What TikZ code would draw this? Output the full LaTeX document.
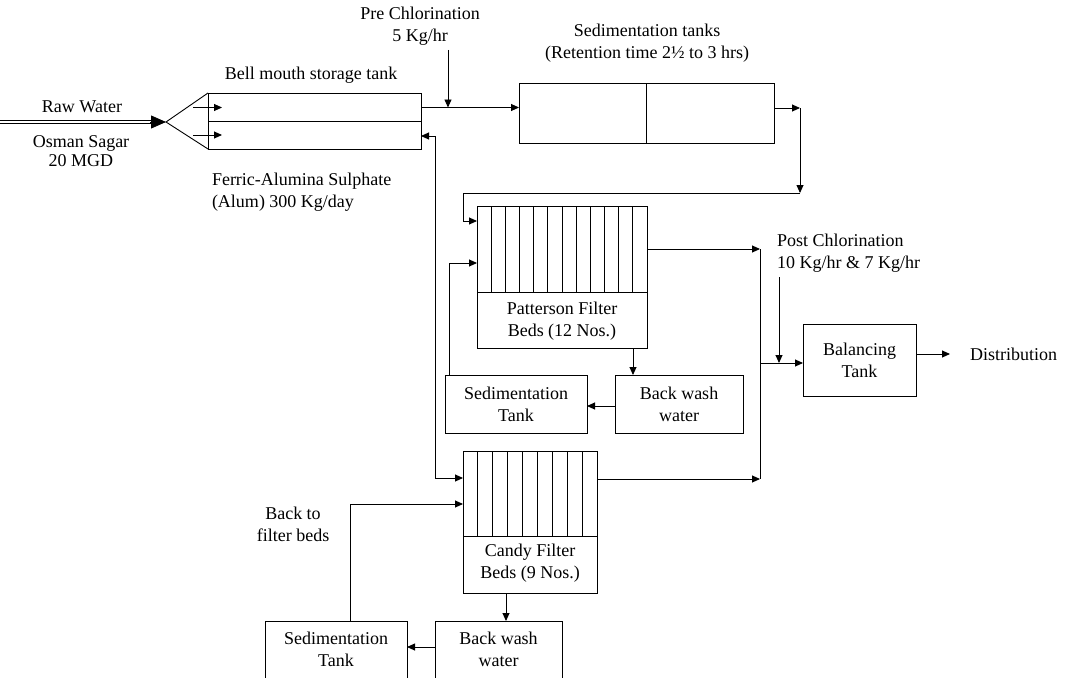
\documentclass[tikz,border=0pt]{standalone}
\usepackage{fontspec}
\setmainfont{Liberation Serif}
\usetikzlibrary{arrows.meta}
\begin{document}
\begin{tikzpicture}[x=1pt,y=-1pt,
  every node/.style={font=\fontsize{18}{22}\selectfont, inner sep=0pt, outer sep=0pt},
  ln/.style={line width=0.9pt},
  box/.style={draw, line width=0.9pt, align=center},
  arr/.style={line width=0.9pt, -{Triangle[length=8pt,width=7pt]}}]
\useasboundingbox (0,0) rectangle (1065,677);
% boxes
\node[box, minimum width=213pt, minimum height=56pt] (bell) at (314.5,121) {};
\draw[ln] (bell.west) -- (bell.east);
\node[box, minimum width=255pt, minimum height=60pt] (sed) at (646.5,113) {};
\draw[ln] (sed.north) -- (sed.south);
\node[box, minimum width=170pt, minimum height=142pt] (patt) at (562,277) {};
\foreach \i in {1,...,11} \draw[ln] ({477+\i*170/12},206) -- ({477+\i*170/12},292);
\draw[ln] (patt.west |- 0,292) -- (patt.east |- 0,292);
\node[align=center] (pattlbl) at (562,321) {Patterson Filter\\Beds (12 Nos.)};
\node[box, minimum width=128pt, minimum height=58pt] (bw1) at (679,404) {Back wash\\water};
\node[box, minimum width=142pt, minimum height=58pt] (st1) at (516,404) {Sedimentation\\Tank};
\node[box, minimum width=113pt, minimum height=72pt] (bal) at (859.5,360) {Balancing\\Tank};
\node[box, minimum width=134pt, minimum height=142pt] (candy) at (530,522) {};
\foreach \i in {1,...,8} \draw[ln] ({463+\i*134/9},451) -- ({463+\i*134/9},536);
\draw[ln] (candy.west |- 0,536) -- (candy.east |- 0,536);
\node[align=center] (candylbl) at (530,563) {Candy Filter\\Beds (9 Nos.)};
\node[box, minimum width=127pt, minimum height=79pt] (bw2) at (498.5,660.5) {};
\node[align=center] (bw2lbl) at (498.5,649) {Back wash\\water};
\node[box, minimum width=142pt, minimum height=79pt] (st2) at (336,660.5) {};
\node[align=center] (st2lbl) at (336,649) {Sedimentation\\Tank};
% labels
\node (rawlbl) at (82,107) {Raw Water};
\node[align=center] (osman) at (81,151.5) {Osman Sagar\\[-3pt]20 MGD};
\node (bmlbl) at (311,75) {Bell mouth storage tank};
\node[align=center] (prechl) at (420,26) {Pre Chlorination\\5 Kg/hr};
\node[align=center] (sedlbl) at (647,43) {Sedimentation tanks\\(Retention time 2½ to 3 hrs)};
\node[align=left, anchor=west] (ferric) at (212,192) {Ferric-Alumina Sulphate\\(Alum) 300 Kg/day};
\node[align=left, anchor=west] (post) at (777,253) {Post Chlorination\\10 Kg/hr \& 7 Kg/hr};
\node[anchor=west] (dist) at (970,354) {Distribution};
\node[align=center] (backto) at (293,524) {Back to\\filter beds};
% coordinates
\coordinate (rawS) at (0,122); \coordinate (apex) at (166,122);
\coordinate (in1) at (193,107.5); \coordinate (in1e) at (222,107.5);
\coordinate (in2) at (193,135); \coordinate (in2e) at (222,135);
\coordinate (pcTop) at (448,50); \coordinate (pcJ) at (448,107.5);
\coordinate (sedOut) at (800,108); \coordinate (sedDown) at (800,193);
\coordinate (pfTurn) at (463,193); \coordinate (pfIn) at (463,221);
\coordinate (retTop) at (435,136); \coordinate (retBot) at (435,478);
\coordinate (st1up) at (449,263);
\coordinate (pOut) at (760,249); \coordinate (cOut) at (760,479); \coordinate (mJ) at (760,363);
\coordinate (postTop) at (779,277); \coordinate (postJ) at (779,363);
\coordinate (distEnd) at (950,354);
\coordinate (st2up) at (350,504);
\coordinate (pbw) at (633,360); \coordinate (b1) at (600,406);
\coordinate (cbw) at (506,600); \coordinate (b2) at (420,647);
% connectors
\draw[line width=1.3pt, double, double distance=1.8pt, shorten >=14pt] (rawS) -- (apex);
\draw[line width=0.8pt, -{Triangle[length=15pt,width=13pt]}] ([xshift=-16pt]apex) -- (apex);
\draw[ln] (bell.north west) -- (apex) -- (bell.south west);
\draw[arr] (in1) -- (in1e);
\draw[arr] (in2) -- (in2e);
\draw[arr] (bell.east |- pcJ) -- (sed.west |- pcJ);
\draw[arr] (pcTop) -- (pcJ);
\draw[arr] (sed.east |- sedOut) -- (sedOut);
\draw[arr] (sedOut) -- (sedDown);
\draw[arr] (sedDown) -- (pfTurn) -- (pfIn) -- (patt.west |- pfIn);
\draw[arr] (retTop) -- (retBot) -- (candy.west |- retBot);
\draw[arr] (retTop) -- (bell.east |- retTop);
\draw[arr] (st1.north -| st1up) -- (st1up) -- (patt.west |- st1up);
\draw[arr] (patt.east |- pOut) -- (pOut);
\draw[ln] (pOut) -- (cOut);
\draw[arr] (candy.east |- cOut) -- (cOut);
\draw[arr] (mJ) -- (bal.west |- mJ);
\draw[arr] (postTop) -- (postJ);
\draw[arr] (bal.east |- distEnd) -- (distEnd);
\draw[arr] (patt.south -| pbw) -- (bw1.north -| pbw);
\draw[arr] (bw1.west |- b1) -- (st1.east |- b1);
\draw[arr] (candy.south -| cbw) -- (bw2.north -| cbw);
\draw[arr] (bw2.west |- b2) -- (st2.east |- b2);
\draw[arr] (st2.north -| st2up) -- (st2up) -- (candy.west |- st2up);
\end{tikzpicture}
\end{document}
